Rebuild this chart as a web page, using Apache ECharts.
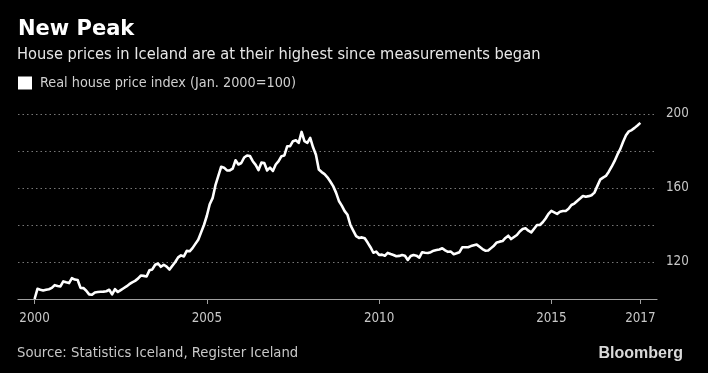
<!DOCTYPE html>
<html>
<head>
<meta charset="utf-8">
<script src="https://cdn.jsdelivr.net/npm/echarts@6/dist/echarts.min.js"></script>
<style>
html,body{margin:0;padding:0;background:#000;}
#chart{width:708px;height:373px;}
</style>
</head>
<body>
<div id="chart"></div>
<script>
// Monthly real house price index, Jan 2000 = 100 (month 0 = Jan 2000)
const startYear = 2000;
const indexValues = [
  100,105.5,105,104.6,105,105.3,106,107.5,107,106.8,109.5,109,
  108.6,111.3,110.5,110.3,106,105.9,104.5,102.5,102.3,103.5,103.8,103.9,
  104,104.2,105,102.5,105.3,103.8,104.8,105.8,106.8,108,109,109.8,
  111,112.7,112.5,112.2,115.5,116,118.5,119.2,117.4,118.5,117.5,115.9,
  118,120,122.5,123.6,123,126,125.8,127.5,129.8,132,136,140,
  145,151.2,154.5,161.5,166.5,171.5,171,169.5,169.5,170.5,175,172.7,
  173.5,176.5,177.6,177.3,174.5,172.5,169.7,173.7,173.5,169.5,171,169.2,
  172.7,174.5,177.2,177.6,182.6,182.6,185.3,185.8,184.4,190.3,185.3,184.4,
  187.1,182,178,170,168.6,167.5,165.8,163.5,161,157.5,153,150.5,
  147.5,145.5,140,137,134,133,133.3,132.8,130.5,128,125,125.6,
  123.8,124,123.4,124.9,124.3,123.8,123.1,123.3,123.8,123.4,121.1,123.2,
  123.8,123.4,122.4,125.3,125,124.9,125.3,126.1,126.5,126.8,127.4,126.3,
  125.5,125.6,124.2,124.7,125.3,128,128,128,128.6,129,129.4,128.2,
  127,126.1,126.2,127.5,128.8,130.6,131,131.3,133,134.2,132.4,133.5,
  134.6,136.5,137.8,138.2,136.9,136,138,140,140,141.5,143.5,146,
  147.6,146.8,146,147.2,147.6,147.6,148.8,150.8,151.6,153,154.3,155.7,
  155.3,155.6,156.1,157.5,161,164.5,165.6,166.5,168.8,171.5,174.5,178,
  181,185,188.5,190.6,191.3,192.5,193.8,195.2
];
// x tick positions (months since Jan 2000) and their labels
const xTickMonths = [0, 60, 120, 180, 211];
const xTickLabels = ['2000', '2005', '2010', '2015', '2017'];
// y tick labels shown
const yLabelValues = [120, 160, 200];

const titleText = 'New Peak';
const subtitleText = 'House prices in Iceland are at their highest since measurements began';
const seriesName = 'Real house price index (Jan. 2000=100)';
const sourceText = 'Source: Statistics Iceland, Register Iceland';

const FONT = '"DejaVu Sans Condensed", "Liberation Sans Narrow", "DejaVu Sans", sans-serif';

const chart = echarts.init(document.getElementById('chart'), null, {renderer: 'canvas'});
const seriesData = indexValues.map((v, i) => [i, v]);

chart.setOption({
  backgroundColor: '#000',
  animation: false,
  title: [
    {text: titleText, left: 18, top: 17, padding: 0,
     textStyle: {color: '#fff', fontSize: 21, fontWeight: 'bold', fontFamily: '"DejaVu Sans", sans-serif', lineHeight: 26}},
    {text: subtitleText, left: 17, top: 44, padding: 0,
     textStyle: {color: '#e6e6e6', fontSize: 16.3, fontWeight: 'normal', fontFamily: FONT, lineHeight: 21}},
    {text: sourceText, left: 17, top: 343, padding: 0,
     textStyle: {color: '#c8c8c8', fontSize: 14.7, fontWeight: 'normal', fontFamily: FONT, lineHeight: 20}},
    {text: 'Bloomberg', right: 25, top: 344, padding: 0,
     textStyle: {color: '#d9d9d9', fontSize: 16, fontWeight: 'bold', fontFamily: '"Liberation Sans", Arial, sans-serif', lineHeight: 20}}
  ],
  legend: {
    left: 18, top: 76, padding: 0,
    icon: 'rect', itemWidth: 14, itemHeight: 13, itemGap: 8,
    textStyle: {color: '#d0d0d0', fontSize: 14.3, fontFamily: FONT, padding: [1, 0, 0, 3]},
    data: [seriesName]
  },
  grid: {left: 18, right: 51, top: 114, height: 185, containLabel: false},
  xAxis: {
    type: 'value',
    min: -5.78, max: 216.8,
    axisLine: {show: true, lineStyle: {color: '#a0a0a0', width: 1.2}},
    axisTick: {show: true, customValues: xTickMonths, length: 5, lineStyle: {color: '#a0a0a0'}},
    axisLabel: {
      customValues: xTickMonths,
      formatter: (v) => { const k = xTickMonths.indexOf(Math.round(v)); return k >= 0 ? xTickLabels[k] : ''; },
      color: '#c8c8c8', fontSize: 13.3, fontFamily: FONT, margin: 13
    },
    splitLine: {show: false}
  },
  yAxis: {
    type: 'value', position: 'right',
    min: 100, max: 200, interval: 20,
    axisLine: {show: false}, axisTick: {show: false},
    axisLabel: {
      customValues: yLabelValues,
      color: '#c8c8c8', fontSize: 13.3, fontFamily: FONT, margin: 9, align: 'left'
    },
    splitLine: {show: true, lineStyle: {color: '#777', width: 1, type: [1.5, 3]}}
  },
  series: [{
    name: seriesName,
    type: 'line',
    data: seriesData,
    showSymbol: false,
    symbol: 'none',
    itemStyle: {color: '#fff'},
    lineStyle: {color: '#fff', width: 2.6, join: 'round'},
    z: 5
  }]
});
</script>
</body>
</html>
